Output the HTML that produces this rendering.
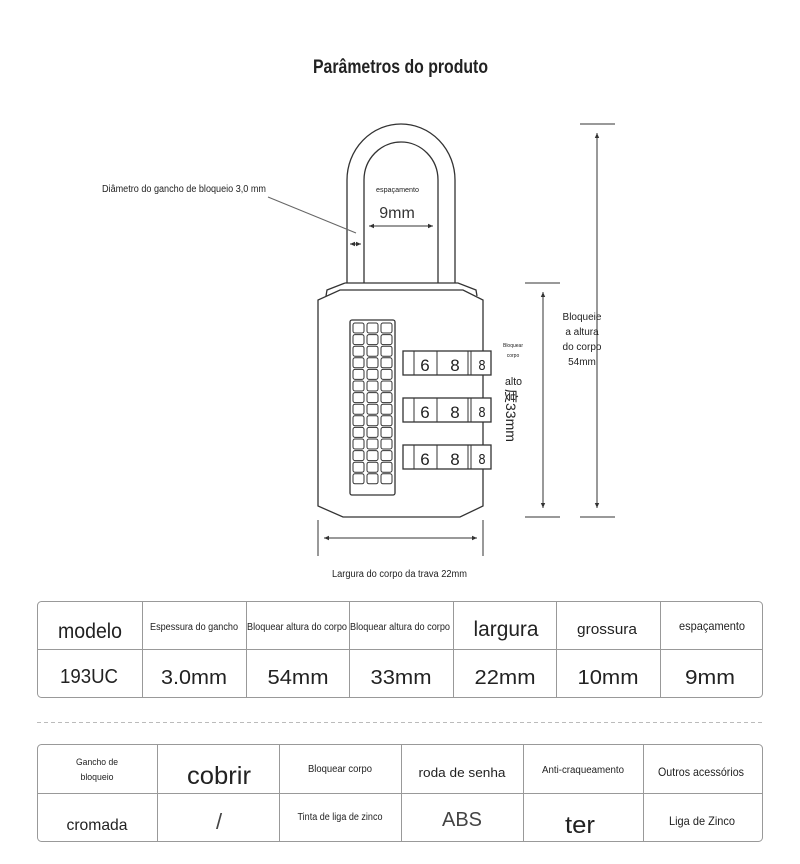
<!DOCTYPE html>
<html><head><meta charset="utf-8"><style>
html,body{margin:0;padding:0;background:#fff;}
svg{display:block}
text{font-family:"Liberation Sans",sans-serif;fill:#222}
.n{font-family:"Liberation Sans",sans-serif;fill:#444}
</style></head><body>
<svg width="800" height="864" viewBox="0 0 800 864">
<defs>
<marker id="a" markerWidth="6" markerHeight="6" refX="5" refY="3" orient="auto-start-reverse"><path d="M0,0.8 L5,3 L0,5.2z" fill="#333"/></marker>
</defs>
<text x="313" y="73" font-size="19" font-weight="bold" textLength="175" lengthAdjust="spacingAndGlyphs">Parâmetros do produto</text>
<g fill="none" stroke="#333" stroke-width="1.3">
<path d="M347,283 V180 A54,56 0 0 1 455,180 V283"/>
<path d="M364,283 V180 A37,38 0 0 1 438,180 V283"/>
<path d="M345,283 L458,283 L476,290 L477,296 M345,283 L327,290 L326,296"/>
<path d="M340,290 L463,290 L483,300 L483,506 L460,517 L343,517 L318,506 L318,300 Z"/>
<rect x="350" y="320" width="45" height="175" rx="2"/>
</g>
<g fill="none" stroke="#333" stroke-width="1">
<g id="k">
<rect x="353" y="323" width="11" height="10" rx="2"/><rect x="367" y="323" width="11" height="10" rx="2"/><rect x="381" y="323" width="11" height="10" rx="2"/>
</g>
<use href="#k" y="11.6"/><use href="#k" y="23.2"/><use href="#k" y="34.8"/><use href="#k" y="46.4"/><use href="#k" y="58"/><use href="#k" y="69.6"/><use href="#k" y="81.2"/><use href="#k" y="92.8"/><use href="#k" y="104.4"/><use href="#k" y="116"/><use href="#k" y="127.6"/><use href="#k" y="139.2"/><use href="#k" y="150.8"/>
</g>
<g id="w">
<rect x="403" y="351" width="88" height="24" fill="#fff" stroke="#333" stroke-width="1.3"/>
<line x1="414" y1="351" x2="414" y2="375" stroke="#333"/>
<line x1="437" y1="351" x2="437" y2="375" stroke="#333"/>
<line x1="468" y1="351" x2="468" y2="375" stroke="#333"/>
<line x1="471" y1="351" x2="471" y2="375" stroke="#333"/>
<text x="425" y="371" font-size="17" text-anchor="middle">6</text>
<text x="455" y="371" font-size="17" text-anchor="middle">8</text>
<text x="482" y="370" font-size="15" text-anchor="middle" textLength="7" lengthAdjust="spacingAndGlyphs">8</text>
</g>
<use href="#w" y="47"/><use href="#w" y="94"/>
<g stroke="#333" stroke-width="1" fill="none">
<line x1="268" y1="197" x2="356" y2="233" stroke="#666"/>
<line x1="350" y1="244" x2="361" y2="244" marker-start="url(#a)" marker-end="url(#a)"/>
<line x1="369" y1="226" x2="433" y2="226" marker-start="url(#a)" marker-end="url(#a)"/>
<line x1="525" y1="283" x2="560" y2="283"/><line x1="525" y1="517" x2="560" y2="517"/>
<line x1="543" y1="292" x2="543" y2="508" marker-start="url(#a)" marker-end="url(#a)"/>
<line x1="580" y1="124" x2="615" y2="124"/><line x1="580" y1="517" x2="615" y2="517"/>
<line x1="597" y1="133" x2="597" y2="508" marker-start="url(#a)" marker-end="url(#a)"/>
<line x1="318" y1="520" x2="318" y2="556"/><line x1="483" y1="520" x2="483" y2="556"/>
<line x1="324" y1="538" x2="477" y2="538" marker-start="url(#a)" marker-end="url(#a)"/>
</g>
<text x="102" y="192" font-size="10" textLength="164" lengthAdjust="spacingAndGlyphs">Diâmetro do gancho de bloqueio 3,0 mm</text>
<text x="376" y="192" font-size="7" fill="#555" textLength="43" lengthAdjust="spacingAndGlyphs">espaçamento</text>
<text x="397" y="218" font-size="16" text-anchor="middle" style="fill:#333">9mm</text>
<text x="513" y="347" font-size="5" text-anchor="middle">Bloquear</text>
<text x="513" y="357" font-size="5" text-anchor="middle">corpo</text>
<text x="505" y="385" font-size="11" textLength="17" lengthAdjust="spacingAndGlyphs">alto</text>
<text x="506" y="389" font-size="14" transform="rotate(90 506 389)">度33mm</text>
<g font-size="10" text-anchor="middle">
<text x="582" y="320">Bloqueie</text>
<text x="582" y="335">a altura</text>
<text x="582" y="350">do corpo</text>
<text x="582" y="365">54mm</text>
</g>
<text x="332" y="577" font-size="10" textLength="135" lengthAdjust="spacingAndGlyphs">Largura do corpo da trava 22mm</text>
<g stroke="#999" stroke-width="1" fill="none">
<rect x="37.5" y="601.5" width="725" height="96" rx="4"/>
<line x1="37" y1="649.5" x2="763" y2="649.5"/>
<line x1="142.5" y1="601" x2="142.5" y2="697"/><line x1="246.5" y1="601" x2="246.5" y2="697"/><line x1="349.5" y1="601" x2="349.5" y2="697"/><line x1="453.5" y1="601" x2="453.5" y2="697"/><line x1="556.5" y1="601" x2="556.5" y2="697"/><line x1="660.5" y1="601" x2="660.5" y2="697"/>
<line x1="37" y1="722.5" x2="763" y2="722.5" stroke="#bbb" stroke-dasharray="4,3"/>
<rect x="37.5" y="744.5" width="725" height="97" rx="4"/>
<line x1="37" y1="793.5" x2="763" y2="793.5"/>
<line x1="157.5" y1="744" x2="157.5" y2="841"/><line x1="279.5" y1="744" x2="279.5" y2="841"/><line x1="401.5" y1="744" x2="401.5" y2="841"/><line x1="523.5" y1="744" x2="523.5" y2="841"/><line x1="643.5" y1="744" x2="643.5" y2="841"/>
</g>
<g text-anchor="middle">
<text x="90" y="638" font-size="21" textLength="64" lengthAdjust="spacingAndGlyphs">modelo</text>
<text x="194" y="630" font-size="10" textLength="88" lengthAdjust="spacingAndGlyphs">Espessura do gancho</text>
<text x="297" y="630" font-size="10" textLength="100" lengthAdjust="spacingAndGlyphs">Bloquear altura do corpo</text>
<text x="400" y="630" font-size="10" textLength="100" lengthAdjust="spacingAndGlyphs">Bloquear altura do corpo</text>
<text x="506" y="636" font-size="21" textLength="65" lengthAdjust="spacingAndGlyphs">largura</text>
<text x="607" y="634" font-size="15" textLength="60" lengthAdjust="spacingAndGlyphs">grossura</text>
<text x="712" y="630" font-size="12" textLength="66" lengthAdjust="spacingAndGlyphs">espaçamento</text>
<g font-size="20" style="fill:#666">
<text x="89" y="683" textLength="58" lengthAdjust="spacingAndGlyphs">193UC</text>
<text x="194" y="684" textLength="66" lengthAdjust="spacingAndGlyphs">3.0mm</text>
<text x="298" y="684" textLength="61" lengthAdjust="spacingAndGlyphs">54mm</text>
<text x="401" y="684" textLength="61" lengthAdjust="spacingAndGlyphs">33mm</text>
<text x="505" y="684" textLength="61" lengthAdjust="spacingAndGlyphs">22mm</text>
<text x="608" y="684" textLength="61" lengthAdjust="spacingAndGlyphs">10mm</text>
<text x="710" y="684" textLength="50" lengthAdjust="spacingAndGlyphs">9mm</text>
</g>
<text x="97" y="765" font-size="9.5" textLength="42" lengthAdjust="spacingAndGlyphs">Gancho de</text>
<text x="97" y="780" font-size="9.5" textLength="33" lengthAdjust="spacingAndGlyphs">bloqueio</text>
<text x="219" y="784" font-size="25" textLength="64" lengthAdjust="spacingAndGlyphs">cobrir</text>
<text x="340" y="772" font-size="10" textLength="64" lengthAdjust="spacingAndGlyphs">Bloquear corpo</text>
<text x="462" y="777" font-size="13" textLength="87" lengthAdjust="spacingAndGlyphs">roda de senha</text>
<text x="583" y="773" font-size="10" textLength="82" lengthAdjust="spacingAndGlyphs">Anti-craqueamento</text>
<text x="701" y="776" font-size="12" textLength="86" lengthAdjust="spacingAndGlyphs">Outros acessórios</text>
<text x="97" y="830" font-size="16" textLength="61" lengthAdjust="spacingAndGlyphs">cromada</text>
<text x="219" y="829" font-size="22" style="fill:#444">/</text>
<text x="340" y="820" font-size="10" textLength="85" lengthAdjust="spacingAndGlyphs">Tinta de liga de zinco</text>
<text x="462" y="826" font-size="20" style="fill:#444" textLength="40" lengthAdjust="spacingAndGlyphs">ABS</text>
<text x="580" y="833" font-size="24" textLength="30" lengthAdjust="spacingAndGlyphs">ter</text>
<text x="702" y="825" font-size="12" textLength="66" lengthAdjust="spacingAndGlyphs">Liga de Zinco</text>
</g>
</svg>
</body></html>
